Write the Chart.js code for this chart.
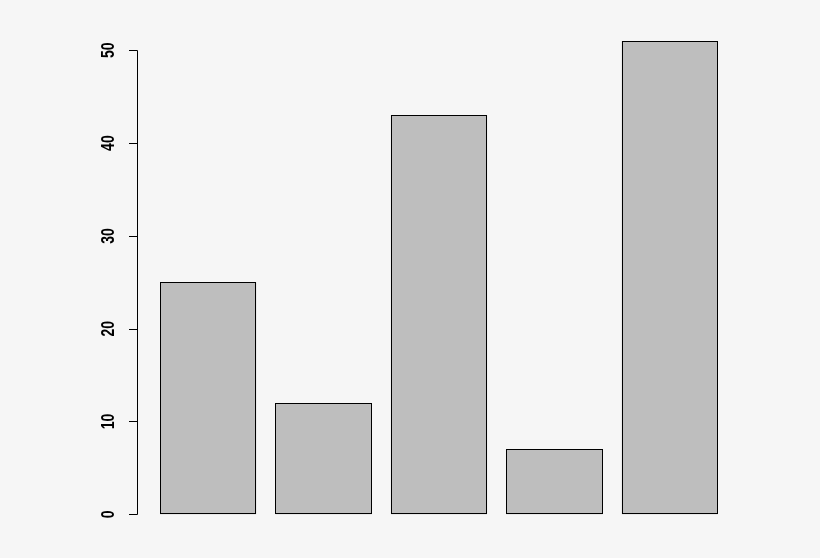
<!DOCTYPE html>
<html>
<head>
<meta charset="utf-8">
<script src="https://cdn.jsdelivr.net/npm/chart.js@4/dist/chart.umd.min.js"></script>
<style>
  html, body { margin: 0; padding: 0; background: #f6f6f6; }
  #wrap { width: 820px; height: 558px; }
</style>
</head>
<body>
<div id="wrap"><canvas id="barChart"></canvas></div>
<script>
const categories = ['A', 'B', 'C', 'D', 'E'];
const values = [25, 12, 43, 7, 51];
const yTicks = [0, 10, 20, 30, 40, 50];

// contorno nitido de las barras, a partir de los elementos de Chart.js
const crispBorder = {
    id: 'crispBorder',
    afterDatasetsDraw(chart) {
        const ctx = chart.ctx;
        ctx.save();
        ctx.strokeStyle = '#000';
        ctx.lineWidth = 1;
        chart.getDatasetMeta(0).data.forEach(bar => {
            const p = bar.getProps(['x', 'y', 'base', 'width']);
            const l = Math.round(p.x - p.width / 2) + 0.5;
            const r = Math.round(p.x + p.width / 2) - 0.5;
            const t = Math.round(p.y) + 0.5;
            const b = Math.round(p.base) - 0.5;
            ctx.strokeRect(l, t, r - l, b - t);
        });
        ctx.restore();
    }
};

// eje y al estilo de R base: linea, marcas y etiquetas giradas
const rAxis = {
    id: 'rAxis',
    afterDraw(chart) {
        const ctx = chart.ctx;
        const y = chart.scales.y;
        const axisX = 137;
        ctx.save();
        ctx.strokeStyle = '#000';
        ctx.lineWidth = 1;
        ctx.beginPath();
        ctx.moveTo(axisX + 0.5, Math.round(y.getPixelForValue(yTicks[0])) + 0.5);
        ctx.lineTo(axisX + 0.5, Math.round(y.getPixelForValue(yTicks[yTicks.length - 1])) + 0.5);
        yTicks.forEach(t => {
            const py = Math.round(y.getPixelForValue(t)) + 0.5;
            ctx.moveTo(axisX - 8, py);
            ctx.lineTo(axisX + 0.5, py);
        });
        ctx.stroke();

        ctx.fillStyle = '#000';
        ctx.font = 'bold 14px "Liberation Sans", Arial, sans-serif';
        ctx.textAlign = 'center';
        ctx.textBaseline = 'middle';
        yTicks.forEach(t => {
            const py = y.getPixelForValue(t);
            ctx.save();
            ctx.translate(109, py);
            ctx.rotate(-Math.PI / 2);
            ctx.scale(1, 1.3);
            ctx.fillText(String(t), 0, 0);
            ctx.restore();
        });
        ctx.restore();
    }
};

new Chart(document.getElementById('barChart').getContext('2d'), {
    type: 'bar',
    data: {
        labels: categories,
        datasets: [{
            data: values,
            backgroundColor: '#bebebe',
            borderWidth: 0,
            barPercentage: 1,
            categoryPercentage: 1 / 1.2
        }]
    },
    options: {
        responsive: true,
        maintainAspectRatio: false,
        animation: false,
        layout: { padding: { left: 150.4, right: 92.4, top: 22.1, bottom: 24.8 } },
        plugins: { legend: { display: false }, tooltip: { enabled: false } },
        scales: {
            x: { display: false },
            y: { display: false, min: -2.04, max: 53.04 }
        }
    },
    plugins: [crispBorder, rAxis]
});
</script>
</body>
</html>
